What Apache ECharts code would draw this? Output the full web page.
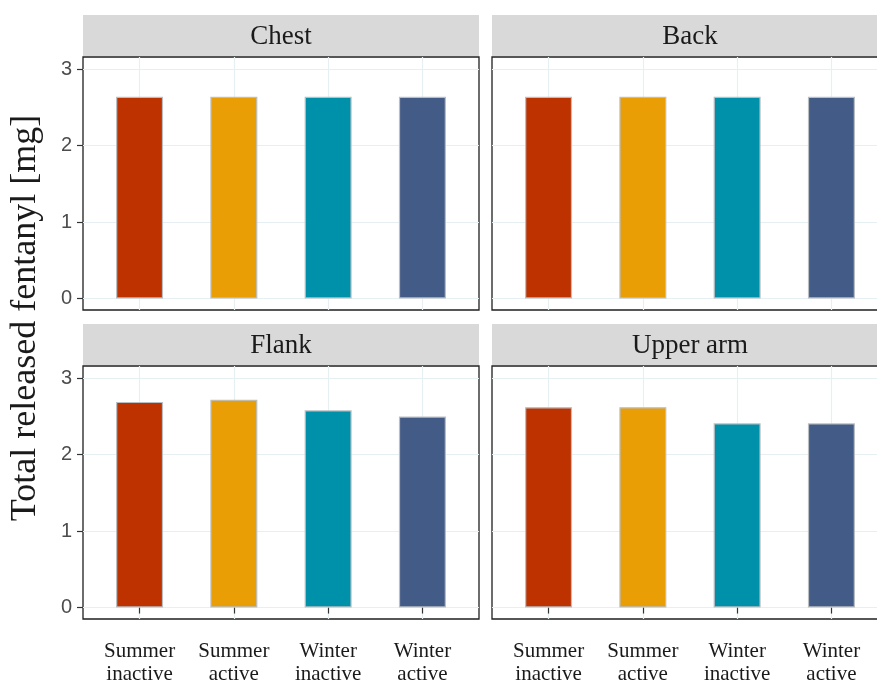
<!DOCTYPE html>
<html>
<head>
<meta charset="utf-8">
<script src="https://cdn.jsdelivr.net/npm/echarts@6/dist/echarts.min.js"></script>
<style>
  html, body { margin: 0; padding: 0; background: #fff; }
  #chart { width: 877px; height: 686px; }
</style>
</head>
<body>
<div id="chart"></div>
<script>
// Treatment groups along the x axis of every panel
const categories = ['Summer\ninactive', 'Summer\nactive', 'Winter\ninactive', 'Winter\nactive'];
// Application sites, one facet each
const sites = ['Chest', 'Back', 'Flank', 'Upper arm'];
// Total released fentanyl [mg] per site and group
const chestValues = [2.64, 2.64, 2.64, 2.64];
const backValues = [2.64, 2.64, 2.64, 2.64];
const flankValues = [2.69, 2.72, 2.58, 2.50];
const upperArmValues = [2.62, 2.62, 2.41, 2.41];
// Y tick labels
const yTicks = [0, 1, 2, 3];
// Fill colour for each group
const groupColors = ['#BE3200', '#EA9E05', '#0091AA', '#435B87'];

const siteValues = [chestValues, backValues, flankValues, upperArmValues];
const catPositions = categories.map((c, i) => i + 1);

const serif = "'Liberation Serif', 'DejaVu Serif', serif";
const gridColor = '#E6F0F2';

// facet layout: 2 x 2 panels
const panelW = 396, panelH = 253;
const panelLeft = [83, 492];
const panelTop = [57, 366];
const stripH = 41, stripGap = 1;

const grids = [], xAxes = [], yAxes = [], series = [], graphics = [];

sites.forEach((site, k) => {
  const col = k % 2, row = Math.floor(k / 2);
  const left = panelLeft[col], top = panelTop[row];
  grids.push({
    left: left, top: top, width: panelW, height: panelH,
    show: true, borderColor: '#1f1f1f', borderWidth: 1.3, backgroundColor: '#fff',
    containLabel: false, outerBoundsMode: 'none'
  });
  const bottomRow = row === 1, leftCol = col === 0;
  xAxes.push({
    type: 'value', gridIndex: k, min: 0.4, max: 4.6, interval: 1,
    axisLine: { show: false },
    axisTick: { show: bottomRow, customValues: catPositions, length: 6, lineStyle: { color: '#333', width: 1.2 } },
    axisLabel: {
      show: bottomRow, customValues: catPositions, margin: 21,
      formatter: v => categories[Math.round(v) - 1] || '',
      fontFamily: serif, fontSize: 21, lineHeight: 23, color: '#1a1a1a'
    },
    splitLine: { show: true, customValues: catPositions, lineStyle: { color: gridColor, width: 1.2 } }
  });
  yAxes.push({
    type: 'value', gridIndex: k, min: -0.15, max: 3.16, splitNumber: 7,
    axisLine: { show: false },
    axisTick: { show: leftCol, customValues: yTicks, length: 6, lineStyle: { color: '#333', width: 1.2 } },
    axisLabel: {
      show: leftCol, customValues: yTicks, margin: 11,
      formatter: v => String(v),
      fontFamily: "'Liberation Sans', Arial, sans-serif", fontSize: 20, color: '#4d4d4d'
    },
    splitLine: { show: true, lineStyle: { color: gridColor, width: 1 } }
  });
  series.push({
    type: 'bar', xAxisIndex: k, yAxisIndex: k,
    barWidth: 47,
    data: siteValues[k].map((v, i) => ({
      value: [catPositions[i], v],
      itemStyle: { color: groupColors[i] }
    })),
    itemStyle: { borderColor: '#B9BEC2', borderWidth: 1.2 },
    emphasis: { disabled: true },
    silent: true,
    z: 3
  });
  // facet strip with the site name
  graphics.push({
    type: 'group', left: left, top: top - stripH - stripGap,
    children: [
      { type: 'rect', shape: { x: 0, y: 0, width: panelW, height: stripH }, style: { fill: '#D9D9D9' } },
      {
        type: 'text', x: panelW / 2, y: stripH / 2 + 1,
        style: { text: site, font: '27px ' + serif, fill: '#1a1a1a', align: 'center', verticalAlign: 'middle' }
      }
    ]
  });
});

// shared y-axis title
graphics.push({
  type: 'text', x: 26, y: 318, rotation: Math.PI / 2,
  style: {
    text: 'Total released fentanyl [mg]', font: '36px ' + serif,
    fill: '#1a1a1a', align: 'center', verticalAlign: 'middle'
  }
});

const chart = echarts.init(document.getElementById('chart'), null, { renderer: 'canvas' });
chart.setOption({
  animation: false,
  backgroundColor: '#fff',
  grid: grids,
  xAxis: xAxes,
  yAxis: yAxes,
  series: series,
  graphic: graphics
});
</script>
</body>
</html>
